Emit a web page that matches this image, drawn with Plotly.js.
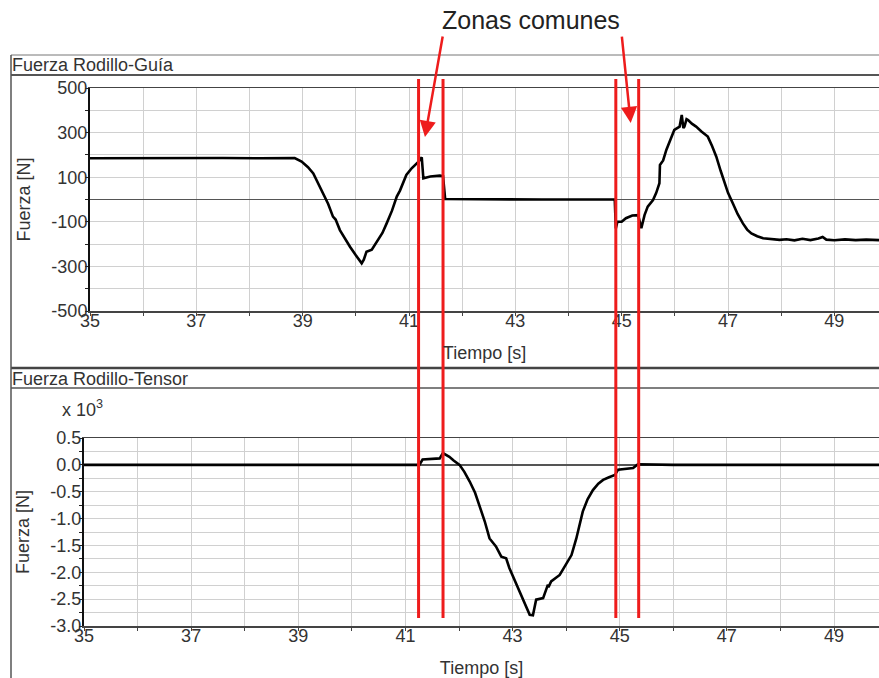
<!DOCTYPE html>
<html>
<head>
<meta charset="utf-8">
<script src="https://cdn.plot.ly/plotly-3.0.1.min.js"></script>
<style>html,body{margin:0;padding:0;background:#fff;}#chart{width:879px;height:678px;}</style>
</head>
<body>
<div id="chart"></div>
<script>
// ---- Data: Fuerza Rodillo-Guía [N] ----
const tGuia = [35, 35.7, 36.5, 37.5, 38.2, 38.85, 38.98, 39.1, 39.2, 39.3, 39.39, 39.48, 39.57, 39.62, 39.7, 39.8, 39.89, 40.0, 40.11, 40.15, 40.2, 40.3, 40.39, 40.45, 40.5, 40.58, 40.68, 40.77, 40.83, 40.95, 41.05, 41.18, 41.24, 41.27, 41.4, 41.58, 41.64, 41.68, 42.5, 43.5, 44.87, 44.89, 44.92, 45.0, 45.08, 45.2, 45.31, 45.37, 45.43, 45.49, 45.59, 45.65, 45.71, 45.72, 45.78, 45.84, 45.92, 45.99, 46.09, 46.13, 46.16, 46.18, 46.22, 46.25, 46.32, 46.4, 46.5, 46.62, 46.7, 46.78, 46.86, 46.94, 47.0, 47.09, 47.18, 47.28, 47.36, 47.44, 47.55, 47.66, 47.8, 47.97, 48.1, 48.25, 48.4, 48.55, 48.7, 48.78, 48.85, 49.0, 49.2, 49.4, 49.6, 49.84];
const fGuia = [185, 186, 184, 186, 185, 186, 170, 145, 117, 70, 28, -20, -77, -90, -137, -180, -212, -250, -286, -270, -234, -225, -189, -170, -150, -107, -50, 13, 40, 110, 140, 170, 189, 95, 103, 107, 105, 2, 0, 0, 0, -130, -100, -100, -84, -72, -70, -129, -70, -32, -2, 30, 73, 155, 175, 222, 270, 312, 327, 379, 320, 327, 360, 356, 340, 327, 305, 282, 240, 192, 130, 73, 30, -17, -65, -107, -135, -152, -165, -174, -178, -181, -178, -183, -176, -182, -175, -168, -180, -183, -179, -182, -180, -182];

// ---- Data: Fuerza Rodillo-Tensor [x10^3 N] ----
const tTensor = [35, 41.26, 41.32, 41.64, 41.7, 41.82, 41.9, 42.01, 42.1, 42.2, 42.3, 42.38, 42.48, 42.57, 42.69, 42.79, 42.88, 42.94, 43.03, 43.13, 43.22, 43.32, 43.38, 43.44, 43.57, 43.66, 43.67, 43.72, 43.88, 44.0, 44.1, 44.19, 44.25, 44.31, 44.4, 44.5, 44.6, 44.69, 44.8, 44.91, 44.97, 45.1, 45.25, 45.34, 46, 49.84];
const fTensor = [0, 0, 0.1, 0.12, 0.22, 0.15, 0.08, 0, -0.13, -0.31, -0.52, -0.74, -1.05, -1.37, -1.52, -1.71, -1.74, -1.92, -2.13, -2.36, -2.57, -2.79, -2.8, -2.51, -2.48, -2.23, -2.28, -2.17, -2.05, -1.86, -1.68, -1.37, -1.1, -0.87, -0.64, -0.47, -0.35, -0.28, -0.23, -0.19, -0.09, -0.07, -0.06, 0.01, 0, 0];

// ---- Common zones (red boundaries, seconds) ----
const zoneBounds = [41.18, 41.64, 44.89, 45.32];
// arrow heads [t, value on top axis]
const arrowT = [41.30, 45.17];
const arrowV = [280, 343];

// ---- Tick labels ----
const xTickVals = [35, 37, 39, 41, 43, 45, 47, 49];
const xTickText = ['35', '37', '39', '41', '43', '45', '47', '49'];
const yGuiaTickVals = [500, 300, 100, -100, -300, -500];
const yGuiaTickText = ['500', '300', '100', '-100', '-300', '-500'];
const yTensorTickVals = [0.5, 0, -0.5, -1, -1.5, -2, -2.5, -3];
const yTensorTickText = ['0.5', '0.0', '-0.5', '-1.0', '-1.5', '-2.0', '-2.5', '-3.0'];

const W = 879, H = 678;
const px = x => x / W;
const py = y => 1 - y / H;
const FONT = 'Liberation Sans, Arial, Helvetica, sans-serif';
const TXT = '#333';
const GRID = '#d0d0d0';
const RED = '#ee1c1c';
const FS = 18;

const traces = [
  {x: tGuia, y: fGuia, xaxis: 'x', yaxis: 'y', mode: 'lines', line: {color: '#000', width: 2.6}, hoverinfo: 'skip'},
  {x: tTensor, y: fTensor, xaxis: 'x2', yaxis: 'y2', mode: 'lines', line: {color: '#000', width: 2.6}, hoverinfo: 'skip'}
];

function xAxis(domain, anchor, standoff) {
  return {
    domain: domain, anchor: anchor, range: [35, 49.84],
    tickmode: 'array', tickvals: xTickVals, ticktext: xTickText,
    ticks: 'outside', ticklen: 3, tickcolor: '#444', tickwidth: 1,
    ticklabelstandoff: -10,
    tickfont: {size: FS, color: TXT, family: FONT},
    showgrid: true, gridcolor: GRID, gridwidth: 1,
    minor: {tickmode: 'linear', tick0: 35, dtick: 1, showgrid: true, gridcolor: GRID, ticks: 'outside', ticklen: 3, tickcolor: '#444'},
    showline: true, linecolor: '#444', linewidth: 1.5, mirror: true,
    zeroline: false,
    title: {text: 'Tiempo [s]', font: {size: FS, color: TXT, family: FONT}, standoff: standoff}
  };
}

function yAxis(domain, anchor, range, vals, text, minorDt) {
  return {
    domain: domain, anchor: anchor, range: range,
    tickmode: 'array', tickvals: vals, ticktext: text,
    ticks: 'outside', ticklen: 3, tickcolor: '#222',
    ticklabelstandoff: -6,
    tickfont: {size: FS, color: TXT, family: FONT},
    showgrid: true, gridcolor: GRID,
    minor: {tickmode: 'linear', tick0: 0, dtick: minorDt, showgrid: true, gridcolor: GRID, ticks: 'outside', ticklen: 3, tickcolor: '#222'},
    showline: true, linecolor: '#111', linewidth: 2,
    zeroline: true, zerolinecolor: '#555', zerolinewidth: 1.5,
    title: {text: 'Fuerza [N]', font: {size: FS, color: TXT, family: FONT}, standoff: 16}
  };
}

const arrowStyle = {text: '', xref: 'x', yref: 'y', showarrow: true, arrowhead: 2, arrowsize: 1.3, arrowwidth: 2.5, arrowcolor: RED};

const layout = {
  width: W, height: H,
  margin: {l: 0, r: 0, t: 0, b: 0},
  paper_bgcolor: '#fff', plot_bgcolor: '#fff',
  showlegend: false,
  font: {family: FONT, color: TXT},
  xaxis: xAxis([px(90), 1], 'y', 16),
  xaxis2: xAxis([px(84), 1], 'y2', 17),
  yaxis: yAxis([py(311), py(88)], 'x', [-500, 500], yGuiaTickVals, yGuiaTickText, 100),
  yaxis2: yAxis([py(626), py(438)], 'x2', [-3, 0.5], yTensorTickVals, yTensorTickText, 0.25),
  shapes: [
    // panel frames
    {type: 'line', xref: 'paper', yref: 'paper', x0: px(11), x1: 1, y0: py(55), y1: py(55), line: {color: '#777', width: 1}},
    {type: 'line', xref: 'paper', yref: 'paper', x0: px(11), x1: 1, y0: py(75), y1: py(75), line: {color: '#555', width: 2}},
    {type: 'line', xref: 'paper', yref: 'paper', x0: px(11), x1: 1, y0: py(368), y1: py(368), line: {color: '#444', width: 2.5}},
    {type: 'line', xref: 'paper', yref: 'paper', x0: px(11), x1: 1, y0: py(388), y1: py(388), line: {color: '#555', width: 1.5}},
    {type: 'line', xref: 'paper', yref: 'paper', x0: px(11), x1: px(11), y0: py(55), y1: 0, line: {color: '#555', width: 1.5}}
  ].concat(zoneBounds.map(t => ({
    type: 'line', xref: 'x', yref: 'paper', x0: t, x1: t, y0: py(618), y1: py(79),
    line: {color: RED, width: 3}
  }))),
  annotations: [
    {text: 'Fuerza Rodillo-Guía', xref: 'paper', yref: 'paper', x: px(10), y: py(65), xanchor: 'left', yanchor: 'middle', showarrow: false, font: {size: FS, color: TXT, family: FONT}},
    {text: 'Fuerza Rodillo-Tensor', xref: 'paper', yref: 'paper', x: px(10), y: py(379), xanchor: 'left', yanchor: 'middle', showarrow: false, font: {size: FS, color: TXT, family: FONT}},
    {text: 'x 10<sup>3</sup>', xref: 'paper', yref: 'paper', x: px(60), y: py(408), xanchor: 'left', yanchor: 'middle', showarrow: false, font: {size: FS, color: TXT, family: FONT}},
    {text: 'Zonas comunes', xref: 'paper', yref: 'paper', x: px(531), y: py(20), xanchor: 'center', yanchor: 'middle', showarrow: false, font: {size: 25, color: '#222', family: FONT}},
    Object.assign({x: arrowT[0], y: arrowV[0], ax: 18, ay: -102}, arrowStyle),
    Object.assign({x: arrowT[1], y: arrowV[1], ax: -9, ay: -88}, arrowStyle)
  ]
};

Plotly.newPlot('chart', traces, layout, {staticPlot: true, displayModeBar: false});
</script>
</body>
</html>
